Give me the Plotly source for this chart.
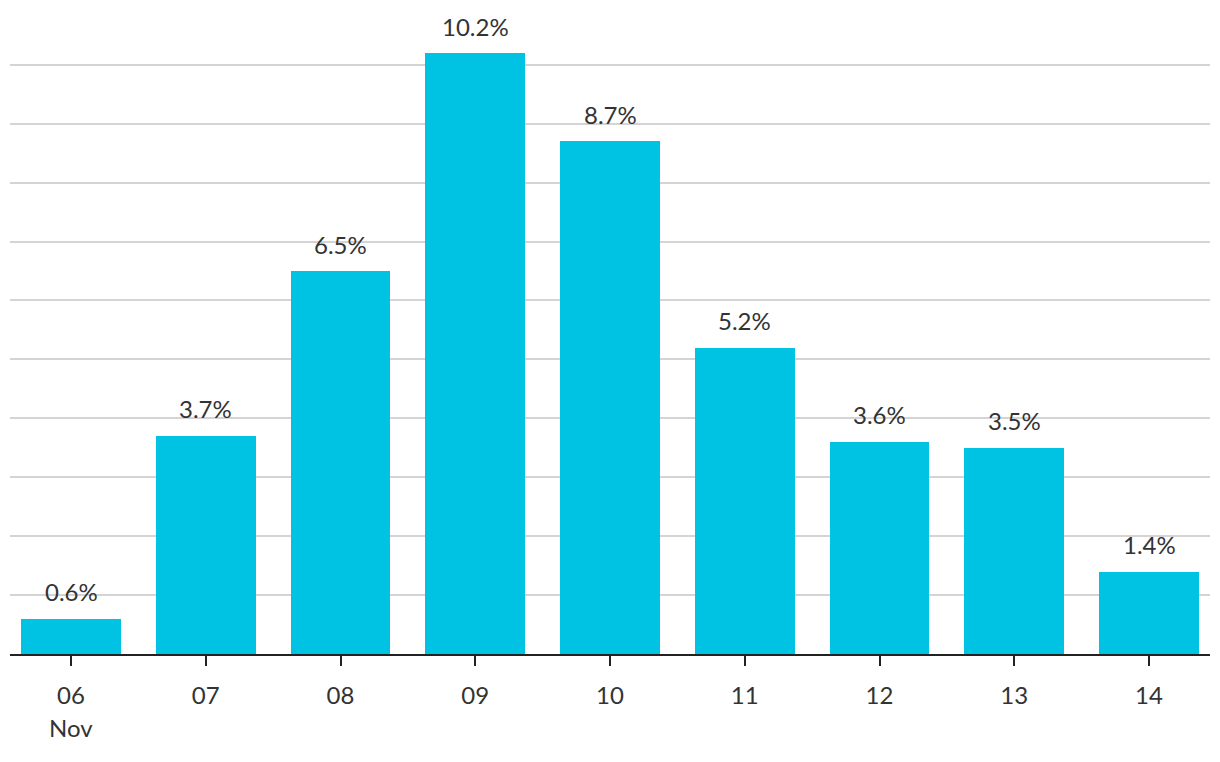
import plotly.graph_objects as go

categories = ["06", "07", "08", "09", "10", "11", "12", "13", "14"]
tick_labels = ["06", "07", "08", "09", "10", "11", "12", "13", "14"]
month_label = "Nov"
values = [0.6, 3.7, 6.5, 10.2, 8.7, 5.2, 3.6, 3.5, 1.4]
value_labels = [f"{v:.1f}%" for v in values]

BAR = "#00C3E3"
TXT = "#333333"
FONT = "Lato"
FS = 24

fig = go.Figure()
fig.add_trace(go.Bar(
    x=list(range(len(categories))), y=values,
    marker=dict(color=BAR, line=dict(width=0)),
    width=0.742, hoverinfo="skip",
))

for i, (v, t) in enumerate(zip(values, value_labels)):
    fig.add_annotation(x=i, y=v, text=t, showarrow=False,
                       yanchor="middle", yshift=27,
                       font=dict(family=FONT, size=FS, color=TXT))

fig.add_annotation(x=0, y=0, xref="x", yref="paper", text=month_label,
                   showarrow=False, yanchor="middle", yshift=-73,
                   font=dict(family=FONT, size=FS, color=TXT))

fig.update_layout(
    width=1220, height=762,
    margin=dict(l=2, r=18, t=2, b=116),
    paper_bgcolor="white", plot_bgcolor="white",
    showlegend=False, bargap=0,
    font=dict(family=FONT, size=FS, color=TXT),
    xaxis=dict(
        range=[-0.4527, 8.4527],
        tickmode="array", tickvals=list(range(len(categories))), ticktext=tick_labels,
        ticks="outside", ticklen=10, tickwidth=2, tickcolor="#222222",
        ticklabelstandoff=9,
        showline=True, linecolor="#222222", linewidth=2,
        showgrid=False, zeroline=False,
        tickfont=dict(family=FONT, size=FS, color=TXT),
    ),
    yaxis=dict(
        range=[0, 10.93], dtick=1, tick0=0,
        showticklabels=False, ticks="",
        showgrid=True, gridcolor="#d4d4d4", gridwidth=1.5,
        zeroline=False, showline=False,
    ),
)

fig.write_html("out.html")
